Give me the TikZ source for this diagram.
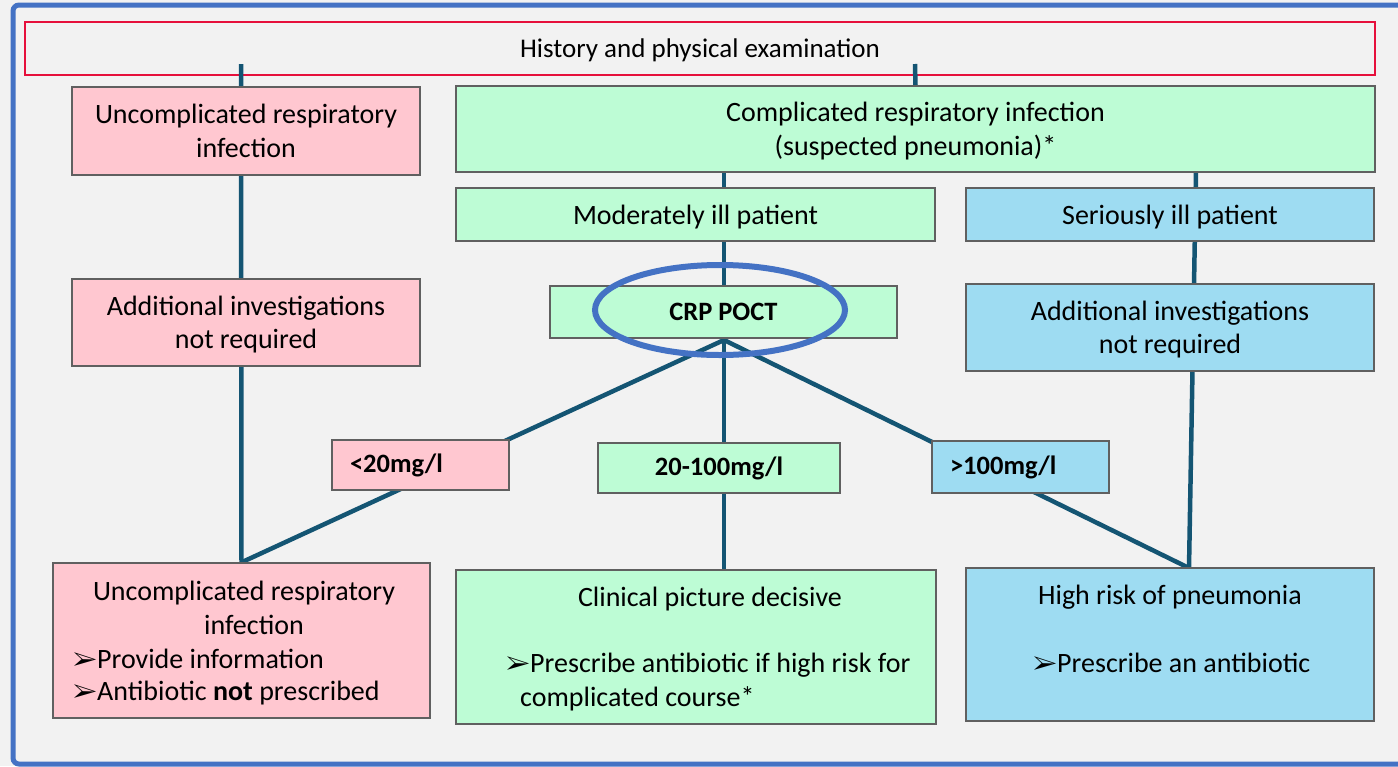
\documentclass[tikz,border=0pt]{standalone}
\usepackage{fontspec}
\setmainfont{Carlito}
\usepackage{pifont}
\usepackage{tikz}
\usetikzlibrary{positioning,calc,shapes.geometric}
\usepackage{xcolor}
\definecolor{pagegray}{RGB}{242,242,242}
\definecolor{frameblue}{RGB}{68,114,196}
\definecolor{histred}{RGB}{230,16,60}
\definecolor{uncpink}{RGB}{255,199,208}
\definecolor{modgreen}{RGB}{189,252,213}
\definecolor{serblue}{RGB}{158,220,242}
\definecolor{linkteal}{RGB}{20,85,115}
\newcommand{\boxfont}{\fontsize{28}{33.5}\selectfont}
\newcommand{\tagfont}{\fontsize{26.5}{30}\selectfont\bfseries}
\newcommand{\bul}{{\fontsize{26}{26}\selectfont\ding{226}}}
\pgfdeclarelayer{bottom}
\pgfdeclarelayer{background}
\pgfsetlayers{bottom,background,main}

\begin{document}
\begin{tikzpicture}[x=1pt, y=-1pt,
  box/.style={draw=gray!75!black, line width=1.3pt, align=center, font=\boxfont, inner sep=0pt, text depth=0pt},
  tag/.style={draw=gray!75!black, line width=1.3pt, font=\tagfont, inner sep=0pt},
  link/.style={linkteal, line width=4.5pt},
  txt/.style={font=\boxfont, inner sep=0pt}]
\useasboundingbox (0,0) rectangle (1398,766);

% Page and frame
\begin{pgfonlayer}{bottom}
\fill[pagegray] (0,0) rectangle (1398,766);
\draw[frameblue, line width=5pt, rounded corners=6pt] (13,5) rectangle (1420,764);
\node[draw=histred, line width=1.3pt, minimum width=1350pt, minimum height=53pt, font=\fontsize{27}{30}\selectfont, text depth=0pt] (hist) at (700,48.5) {History and physical examination};
\end{pgfonlayer}

% Uncomplicated branch
\node[box, fill=uncpink, minimum width=348pt, minimum height=88pt] (unc) at (246,131) {Uncomplicated respiratory\\infection};
\node[box, fill=uncpink, minimum width=348pt, minimum height=87pt] (uncadd) at (246,322.5) {Additional investigations\\not required};

% Complicated branch
\node[box, fill=modgreen, minimum width=919pt, minimum height=86pt] (comp) at (915.5,129) {Complicated respiratory infection\\(suspected pneumonia)*};
\node[box, fill=modgreen, minimum width=479pt, minimum height=53pt] (mod) at (695.5,214.5) {Moderately ill patient};
\node[box, fill=serblue, minimum width=408pt, minimum height=53pt] (ser) at (1170,214.5) {Seriously ill patient};
\node[box, fill=modgreen, minimum width=347pt, minimum height=52pt, font=\tagfont] (crp) at (723.5,312) {CRP POCT};
\node[box, fill=serblue, minimum width=408pt, minimum height=87pt] (seradd) at (1170,327.5) {Additional investigations\\not required};
\node[ellipse, draw=frameblue, line width=6pt, minimum width=250pt, minimum height=90pt] (ring) at (720,310) {};

% CRP levels
\node[tag, fill=uncpink, minimum width=177pt, minimum height=50pt, text width=141pt] (low) at (420.5,465) {\raggedright <20mg/l};
\node[tag, fill=modgreen, minimum width=242pt, minimum height=50pt] (mid) at (719,468) {20-100mg/l};
\node[tag, fill=serblue, minimum width=177pt, minimum height=52pt, text width=141pt] (high) at (1020.5,467) {\raggedright >100mg/l};

% Outcomes
\node[box, fill=uncpink, minimum width=377pt, minimum height=155pt] (res1) at (241.5,640.5) {};
\node[box, fill=modgreen, minimum width=480pt, minimum height=154pt] (res2) at (696,647) {};
\node[box, fill=serblue, minimum width=408pt, minimum height=153pt] (res3) at (1170,644.5) {};

\node[txt, align=center] (res1t) at (244,608) {Uncomplicated respiratory\\\hspace*{20pt}infection};
\node[txt, anchor=west] (res1a) at (73,659) {\bul Provide information};
\node[txt, anchor=west] (res1b) at (73,693) {\bul Antibiotic \textbf{not} prescribed};
\node[txt] (res2t) at (710,599) {Clinical picture decisive};
\node[txt, anchor=west] (res2a) at (506,665) {\bul Prescribe antibiotic if high risk for};
\node[txt, anchor=west] (res2b) at (520,699) {complicated course*};
\node[txt] (res3t) at (1170,597) {High risk of pneumonia};
\node[txt, anchor=west] (res3a) at (1033,663) {\bul Prescribe an antibiotic};

% Connectors
\coordinate (hl) at (241,64);
\coordinate (hr) at (915,64);
\coordinate (apex) at (724,340);
\coordinate (st) at (1196,172);
\coordinate (sb) at (1189,568);
\begin{pgfonlayer}{background}
\draw[link] (hl) -- (res1.north);
\draw[link] (hr) -- (comp.north);
\draw[link] (comp.south -| apex) -- (res2.north -| apex);
\draw[link] (st) -- (sb);
\draw[link] (apex) -- (res1.north);
\draw[link] (apex) -- (sb);
\end{pgfonlayer}
\end{tikzpicture}
\end{document}
